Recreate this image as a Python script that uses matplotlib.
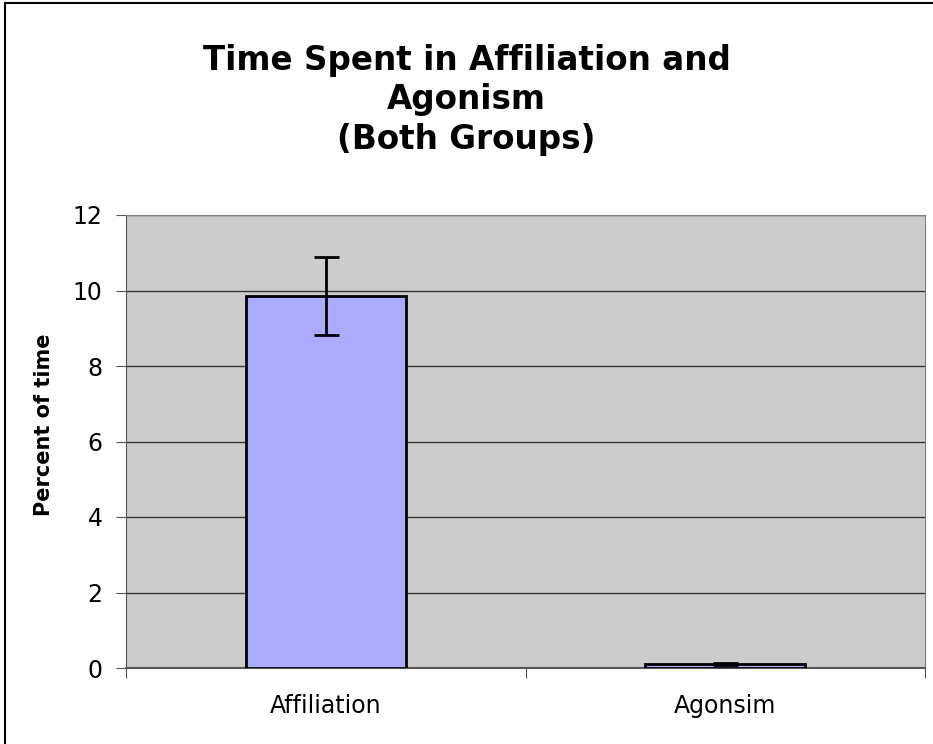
import matplotlib
matplotlib.use('Agg')
import matplotlib.pyplot as plt
from matplotlib.lines import Line2D

# data
categories = ['Affiliation', 'Agonsim']
percent_time = [9.85, 0.10]
errors = [1.04, 0.02]

fig = plt.figure(figsize=(9.33, 7.44), dpi=100)
ax = fig.add_axes([126 / 933, 1 - 668 / 744, 799 / 933, 453 / 744])

ax.set_facecolor('#CCCCCC')
ax.bar(range(len(categories)), percent_time, width=0.4, color='#AAAAFF',
       edgecolor='black', linewidth=2, zorder=3)
ax.errorbar(range(len(categories)), percent_time, yerr=errors, fmt='none',
            ecolor='black', elinewidth=2, capsize=9, capthick=2, zorder=4)

ax.set_xlim(-0.5, 1.5)
ax.set_ylim(0, 12)
ax.set_yticks(range(0, 13, 2))
ax.yaxis.grid(True, color='#333333', linewidth=1, zorder=1)
ax.set_axisbelow(True)

# category boundary ticks, labels centred under bars
ax.set_xticks([-0.5, 0.5, 1.5])
ax.set_xticklabels([])
ax.set_xticks(range(len(categories)), minor=True)
ax.set_xticklabels(categories, minor=True)
ax.tick_params(axis='x', which='minor', length=0, pad=19, labelsize=17)
ax.tick_params(axis='x', which='major', length=7, color='#555555')
ax.tick_params(axis='y', length=7, color='#555555', labelsize=17, pad=10)

for side in ['top', 'right']:
    ax.spines[side].set_color('#808080')
for side in ['left', 'bottom']:
    ax.spines[side].set_color('#555555')
ax.spines['bottom'].set_linewidth(1.5)

ax.set_ylabel('Percent of time', fontsize=15, fontweight='bold')
ax.yaxis.set_label_coords(-0.090, 0.536)
fig.text(0.5, 1 - 100 / 744, 'Time Spent in Affiliation and\nAgonism\n(Both Groups)',
         ha='center', va='center', fontsize=23.5, fontweight='bold', linespacing=1.25)

# outer chart frame
fig.add_artist(Line2D([5 / 933, 5 / 933], [0, 1 - 3 / 744], color='black', linewidth=1.5,
                      transform=fig.transFigure))
fig.add_artist(Line2D([5 / 933, 1], [1 - 3 / 744, 1 - 3 / 744], color='black', linewidth=1.5,
                      transform=fig.transFigure))

plt.savefig('out.png', dpi=100)
